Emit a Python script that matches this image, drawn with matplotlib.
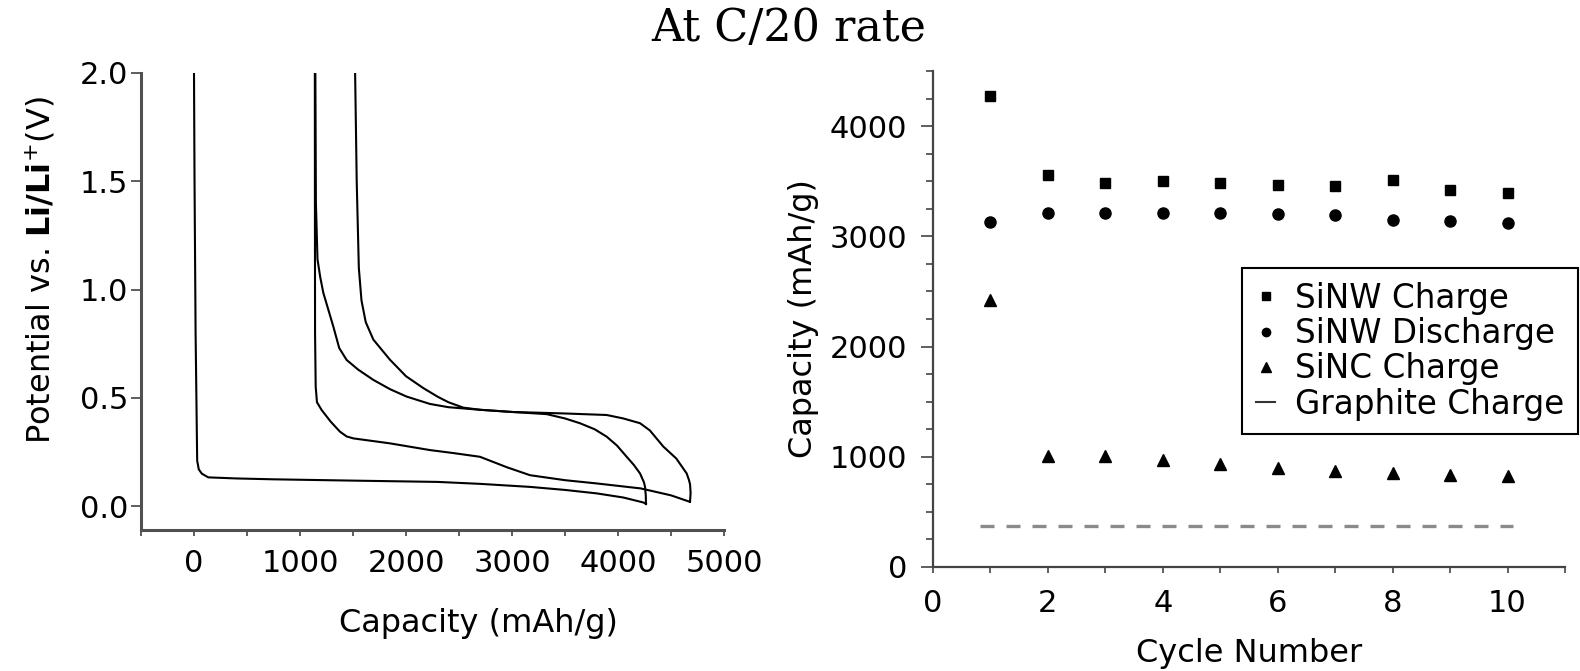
import matplotlib
matplotlib.use('Agg')
import matplotlib.pyplot as plt
from matplotlib.ticker import MultipleLocator
from matplotlib.lines import Line2D

# ---------------- Left panel data: voltage profiles ----------------
# 1st lithiation (charge)
cap_lith1 = [0, 5, 15, 30, 45, 74, 135, 400, 750, 1500, 2300, 2700, 3170, 3500, 3800, 4050, 4240, 4264]
volt_lith1 = [2.0, 1.5, 0.8, 0.21, 0.17, 0.15, 0.133, 0.128, 0.124, 0.118, 0.112, 0.103, 0.089, 0.075, 0.059, 0.04, 0.017, 0.01]

# 1st delithiation (discharge), from high capacity back to low
cap_delith1 = [4264, 4262, 4255, 4245, 4208, 4150, 4082, 3990, 3893, 3780, 3641, 3500, 3327, 3000, 2700,
               2400, 2226, 2006, 1850, 1692, 1550, 1440, 1370, 1314, 1220, 1190, 1165, 1150, 1145]
volt_delith1 = [0.01, 0.05, 0.089, 0.11, 0.151, 0.19, 0.228, 0.28, 0.321, 0.355, 0.383, 0.405, 0.425, 0.435, 0.445,
                0.457, 0.472, 0.506, 0.54, 0.583, 0.63, 0.675, 0.73, 0.83, 0.985, 1.06, 1.14, 1.4, 2.0]

# 2nd lithiation (charge)
cap_lith2 = [1140, 1141, 1142, 1148, 1160, 1204, 1290, 1377, 1440, 1503, 1849, 2226, 2450, 2698, 2950, 3170, 3500,
             3799, 4214, 4500, 4679]
volt_lith2 = [2.0, 1.3, 0.8, 0.552, 0.48, 0.444, 0.39, 0.344, 0.322, 0.313, 0.29, 0.259, 0.245, 0.228, 0.18, 0.143, 0.12,
              0.105, 0.082, 0.05, 0.02]

# 2nd delithiation (discharge)
cap_delith2 = [4679, 4685, 4680, 4670, 4648, 4550, 4428, 4300, 4208, 4050, 3893, 3500, 3000, 2700, 2540, 2400,
               2300, 2164, 2000, 1849, 1692, 1620, 1580, 1555, 1535, 1520]
volt_delith2 = [0.02, 0.06, 0.1, 0.12, 0.151, 0.22, 0.275, 0.35, 0.383, 0.405, 0.421, 0.428, 0.435, 0.445, 0.455,
                0.48, 0.505, 0.545, 0.6, 0.676, 0.769, 0.85, 0.95, 1.1, 1.5, 2.0]

left_xticks = [0, 1000, 2000, 3000, 4000, 5000]
left_yticks = [0.0, 0.5, 1.0, 1.5, 2.0]

# ---------------- Right panel data: cycling ----------------
cycles = [1, 2, 3, 4, 5, 6, 7, 8, 9, 10]
sinw_charge = [4270, 3560, 3480, 3500, 3480, 3470, 3455, 3510, 3420, 3390]
sinw_discharge = [3130, 3210, 3210, 3210, 3215, 3205, 3190, 3150, 3135, 3120]
sinc_charge = [2420, 1010, 1010, 975, 930, 895, 868, 852, 836, 826]
graphite_cycles = [0.82, 10.1]
graphite_charge = [372, 372]

right_xticks = [0, 2, 4, 6, 8, 10]
right_yticks = [0, 1000, 2000, 3000, 4000]
legend_labels = ['SiNW Charge', 'SiNW Discharge', 'SiNC Charge', 'Graphite Charge']

# ---------------- Figure ----------------
W, H = 1580, 671
fig = plt.figure(figsize=(W / 100, H / 100), dpi=100)

tick_fs = 22
label_fs = 23

# Left axes
ax1 = fig.add_axes([141 / W, 1 - 530 / H, 583 / W, 457 / H])
for c, v in [(cap_lith1, volt_lith1), (cap_delith1, volt_delith1),
             (cap_lith2, volt_lith2), (cap_delith2, volt_delith2)]:
    ax1.plot(c, v, color='black', lw=1.5, solid_joinstyle='round')
ax1.set_xlim(-500, 5000)
ax1.set_ylim(-0.11, 2.0)
ax1.set_xticks(left_xticks)
ax1.set_yticks(left_yticks)
ax1.set_yticklabels([f'{t:.1f}' for t in left_yticks])
ax1.xaxis.set_minor_locator(MultipleLocator(500))
for s in ['top', 'right']:
    ax1.spines[s].set_visible(False)
for s in ['left', 'bottom']:
    ax1.spines[s].set_linewidth(2.2)
    ax1.spines[s].set_color('#505050')
ax1.tick_params(axis='y', which='major', direction='out', length=7, width=1.3, pad=2,
                labelsize=tick_fs, color='#505050')
ax1.tick_params(axis='x', which='both', direction='out', length=4.5, width=1.3, pad=9,
                labelsize=tick_fs, color='#505050')
ax1.set_xlabel('Capacity (mAh/g)', fontsize=label_fs)
ax1.xaxis.set_label_coords(0.578, -0.17)
ax1.set_ylabel(r'Potential vs. $\mathbf{Li/Li}^{+}$(V)', fontsize=label_fs)
ax1.yaxis.set_label_coords(-0.144, 0.569)

# Right axes
ax2 = fig.add_axes([933 / W, 1 - 567 / H, 632 / W, 496 / H])
ax2.plot(graphite_cycles, graphite_charge, color='#8a8a8a', lw=2.4, dashes=(4.2, 3.6))
ax2.plot(cycles, sinw_charge, 's', color='black', ms=7.2, ls='none')
ax2.plot(cycles, sinw_discharge, 'o', color='black', ms=8, ls='none')
ax2.plot(cycles, sinc_charge, '^', color='black', ms=8.2, ls='none')
ax2.set_xlim(0, 11)
ax2.set_ylim(0, 4500)
ax2.set_xticks(right_xticks)
ax2.set_yticks(right_yticks)
ax2.xaxis.set_minor_locator(MultipleLocator(1))
ax2.yaxis.set_minor_locator(MultipleLocator(250))
for s in ['top', 'right']:
    ax2.spines[s].set_visible(False)
for s in ['left', 'bottom']:
    ax2.spines[s].set_linewidth(1.6)
    ax2.spines[s].set_color('#444444')
ax2.tick_params(axis='y', which='major', direction='out', length=8.5, width=1.2, pad=10,
                labelsize=tick_fs, color='#444444')
ax2.tick_params(axis='y', which='minor', direction='out', length=5, width=1.2, color='#444444')
ax2.tick_params(axis='x', which='both', direction='out', length=4, width=1.2, pad=12,
                labelsize=tick_fs, color='#444444')
ax2.set_xlabel('Cycle Number', fontsize=label_fs)
ax2.xaxis.set_label_coords(0.5, -0.143)
ax2.set_ylabel('Capacity (mAh/g)', fontsize=label_fs)
ax2.yaxis.set_label_coords(-0.18, 0.5)

handles = [
    Line2D([], [], marker='s', color='black', ls='none', ms=5.5),
    Line2D([], [], marker='o', color='black', ls='none', ms=6),
    Line2D([], [], marker='^', color='black', ls='none', ms=6.5),
    Line2D([], [], color='#333333', lw=1.5),
]
leg = ax2.legend(handles, legend_labels, loc='upper left',
                 bbox_to_anchor=(1242 / W, 1 - 268 / H), bbox_transform=fig.transFigure,
                 fontsize=23.5, frameon=True, fancybox=False, edgecolor='black', framealpha=1,
                 borderaxespad=0, borderpad=0.42, labelspacing=0.07, handlelength=0.6,
                 handletextpad=0.6)
leg.get_frame().set_linewidth(1.5)

fig.text(788.5 / W, 1 - 28 / H, 'At C/20 rate', family='DejaVu Serif', fontsize=32,
         ha='center', va='center')

fig.savefig('out.png', dpi=100)
